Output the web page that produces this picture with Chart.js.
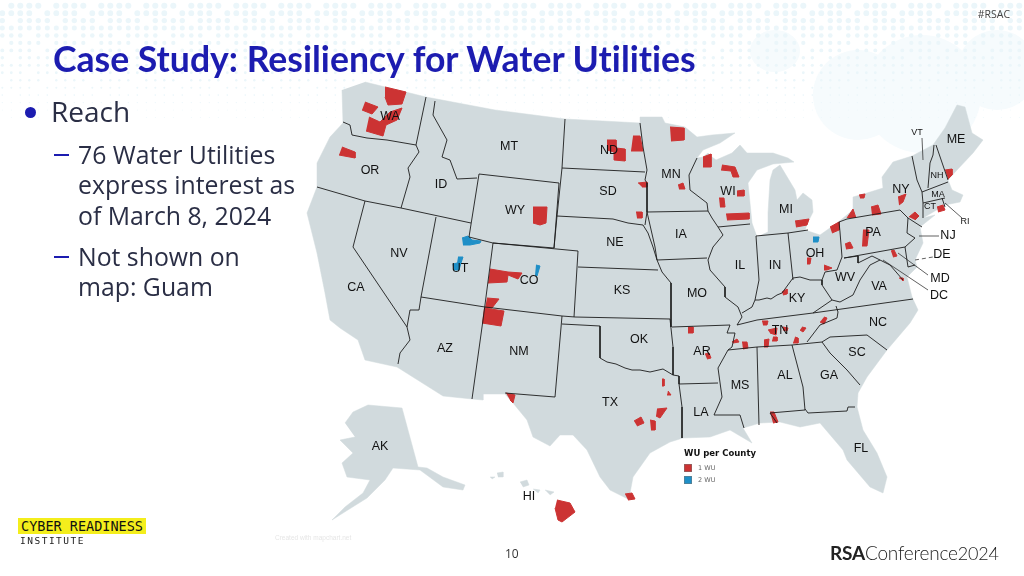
<!DOCTYPE html>
<html>
<head>
<meta charset="utf-8">
<title>Case Study: Resiliency for Water Utilities</title>
<script src="https://cdn.jsdelivr.net/npm/chart.js@4"></script>
<style>
  html, body { margin: 0; padding: 0; background: #fff; }
  #slide { position: relative; width: 1024px; height: 576px; overflow: hidden; background: #fff; }
  .blob { position: absolute; border-radius: 50%; background: #f6fbfd; }
  canvas { position: absolute; left: 0; top: 0; }
  .t { position: absolute; white-space: nowrap; }
  #title { left: 53px; top: 37px; font: bold 35.6px Lato, sans-serif; color: #1c1cb0; font-variant-ligatures: none; }
  .body { font-family: "Open Sans", sans-serif; color: #2a2e45; }
  .l2 { left: 78px; font-size: 24.8px; line-height: 30px; }
  .dash { position: absolute; left: 54px; width: 15px; height: 2px; background: #1c1cb0; }
  #bullet { position: absolute; left: 25px; top: 107px; width: 11px; height: 11px; border-radius: 50%; background: #1c1cb0; }
  #logo { left: 18px; top: 518px; width: 128px; height: 16px; background: #f4ee1c;
    font: 13.5px/16px "DejaVu Sans Mono", monospace; color: #111; text-align: center; }
  #inst { left: 20px; top: 535px; font: 9.5px/12px "DejaVu Sans Mono", monospace; letter-spacing: 1.5px; color: #222; }
  #rsa { left: 830px; top: 541px; font: 300 19px/24px Lato, sans-serif; color: #222; letter-spacing: -0.2px; }
  #rsa b { font-weight: 700; }
</style>
</head>
<body>
<div id="slide">
  <div class="blob" style="left:750px;top:30px;width:50px;height:42px"></div>
  <div class="blob" style="left:813px;top:50px;width:90px;height:90px"></div>
  <div class="blob" style="left:863px;top:35px;width:118px;height:118px"></div>
  <div class="blob" style="left:957px;top:30px;width:80px;height:80px"></div>
  <canvas id="dots" width="1024" height="130"></canvas>
  <canvas id="map" width="1024" height="576"></canvas>
  <div class="t" id="title">Case Study: Resiliency for Water Utilities</div>
  <div id="bullet"></div>
  <div class="t body" style="left:51px;top:91px;font-size:28px;line-height:40px">Reach</div>
  <div class="dash" style="top:154px"></div>
  <div class="t body l2" style="top:139px">76 Water Utilities</div>
  <div class="t body l2" style="top:169px">express interest as</div>
  <div class="t body l2" style="top:200px">of March 8, 2024</div>
  <div class="dash" style="top:256px"></div>
  <div class="t body l2" style="top:241px">Not shown on</div>
  <div class="t body l2" style="top:271px">map: Guam</div>
  <div class="t" style="right:14px;top:7px;font:10.5px 'Open Sans',sans-serif;color:#444">#RSAC</div>
  <div class="t" id="logo">CYBER READINESS</div>
  <div class="t" id="inst">INSTITUTE</div>
  <div class="t" style="left:275px;top:534px;font:6.5px 'Liberation Sans',sans-serif;color:#e6e6e6">Created with mapchart.net</div>
  <div class="t" style="left:505px;top:545px;font:12px 'Open Sans',sans-serif;color:#333">10</div>
  <div class="t" id="rsa"><b>RSA</b>Conference<span style="font-size:18px">2024</span></div>
</div>
<script>
// Outlines and marks in slide units (x right, y down)
const mainland = [[365,82],[426,97],[495,110],[565,119],[640,123],[640,117],[662,117],[665,123],[685,127],[697,137],[712,135],[735,133],[720,143],[703,150],[697,158],[703,157],[708,153],[712,157],[716,160],[732,153],[740,145],[747,153],[773,153],[788,158],[794,162],[773,164],[757,170],[748,183],[750,203],[752,223],[757,237],[768,232],[768,213],[770,180],[773,170],[780,165],[795,190],[797,200],[803,193],[812,200],[813,212],[808,222],[805,230],[820,235],[837,223],[853,210],[853,197],[867,193],[883,188],[882,177],[893,162],[912,156],[933,145],[945,128],[957,105],[965,107],[972,133],[983,140],[973,153],[957,170],[948,180],[952,190],[963,195],[960,202],[945,205],[923,218],[935,215],[920,227],[923,243],[915,260],[917,267],[907,277],[912,297],[918,310],[910,323],[887,350],[867,377],[858,393],[857,407],[863,430],[877,453],[887,477],[883,493],[870,487],[847,460],[843,450],[820,423],[800,427],[780,422],[760,423],[743,428],[752,443],[730,430],[710,437],[683,438],[670,442],[650,453],[633,477],[630,493],[630,500],[610,490],[600,477],[587,450],[573,435],[560,435],[550,446],[533,437],[527,420],[513,403],[505,394],[483,394],[483,400],[472,399],[443,396],[397,367],[365,360],[358,340],[340,328],[330,320],[325,293],[317,253],[307,213],[317,187],[317,163],[330,137],[343,123],[342,90]];
const alaska = [[345,423],[353,412],[368,405],[402,408],[418,467],[427,468],[443,477],[465,485],[463,490],[443,487],[420,470],[393,468],[385,480],[367,498],[343,513],[332,520],[345,507],[363,493],[370,480],[347,477],[342,463],[353,453],[340,440],[355,437]];
const hawaiiIslands = [
  [[520,482],[527,480],[529,485],[523,487]],
  [[545,490],[554,492],[550,495]],
  [[533,489],[540,490],[538,493]],
  [[497,473],[503,472],[503,477],[498,477]],
  [[490,477],[495,477],[492,479]]
];
const stateBorders = [
  [[343,122],[350,125],[352,135],[367,138],[387,140],[416,145]],
  [[426,97],[416,145],[419,152],[408,168],[410,177],[401,208]],
  [[317,187],[365,201],[401,208],[471,223]],
  [[435,101],[433,115],[447,140],[442,157],[450,160],[457,179],[477,178]],
  [[479,174],[559,183],[554,248],[493,243],[469,237],[479,174]],
  [[365,201],[353,247],[407,327],[410,340],[400,353],[398,364]],
  [[436,217],[421,297],[419,310],[410,310],[407,327]],
  [[421,297],[485,307],[562,316],[575,317],[670,319]],
  [[493,243],[578,251],[574,317]],
  [[493,243],[483,320],[472,399]],
  [[562,316],[555,397],[505,393]],
  [[562,324],[600,326],[600,358],[607,362],[616,364],[625,368],[632,370],[640,370],[650,372],[663,369],[673,375],[679,376],[679,384],[682,407],[682,438]],
  [[670,319],[673,347],[673,375]],
  [[672,327],[730,325],[727,333],[735,333],[732,347],[728,350]],
  [[578,267],[658,270]],
  [[557,216],[613,219],[628,223],[643,225],[648,233],[653,247],[657,260],[662,272],[671,283],[671,327]],
  [[565,119],[562,168],[557,216],[554,248]],
  [[562,168],[645,172]],
  [[640,123],[643,147],[647,170],[645,180],[647,183],[647,212],[645,225]],
  [[647,212],[655,247],[657,260],[707,258]],
  [[647,212],[708,211]],
  [[697,158],[689,175],[690,190],[707,203],[708,211],[712,218],[718,227],[723,235],[713,247],[708,260],[710,270],[725,287],[725,297],[738,307],[742,317],[737,325]],
  [[718,227],[750,224]],
  [[756,236],[788,233],[808,230]],
  [[756,236],[759,280],[755,300],[752,307],[742,313]],
  [[788,233],[793,280]],
  [[755,300],[759,300],[767,298],[771,299],[777,295],[782,293],[793,278],[800,277],[810,280],[822,280],[825,272],[837,270],[842,257],[840,232],[839,222]],
  [[822,280],[822,285],[832,300],[813,313]],
  [[737,325],[757,320],[813,313],[913,299]],
  [[832,300],[840,302],[853,295],[860,280],[870,265],[880,260],[890,265],[903,280]],
  [[844,258],[858,256],[858,263],[872,256],[880,260]],
  [[844,258],[905,247],[915,238],[907,233],[908,218],[900,210],[847,219],[839,222]],
  [[908,218],[922,227]],
  [[923,218],[923,203],[922,192],[917,180],[912,156]],
  [[934,145],[933,155],[930,163],[928,188]],
  [[922,192],[948,182]],
  [[923,203],[945,198]],
  [[942,198],[945,207]],
  [[936,145],[948,180]],
  [[905,247],[908,267],[915,265]],
  [[822,342],[830,337],[867,335],[887,350]],
  [[838,312],[837,318],[820,325],[807,342]],
  [[838,312],[836,306]],
  [[728,350],[757,347],[792,345],[822,342]],
  [[728,350],[718,368],[722,397],[714,415],[740,415],[744,428]],
  [[757,347],[759,425]],
  [[792,345],[803,387],[805,410],[770,413],[777,423]],
  [[805,409],[808,413],[847,411],[848,407],[855,407]],
  [[822,342],[830,353],[847,370],[860,385]],
  [[679,384],[718,383]]
];
const leaderLines = [
  [[922,138],[923,160]],
  [[945,203],[962,218]],
  [[919,236],[939,236]],
  [[898,253],[928,275]],
  [[883,260],[928,290]]
];
const dashedLeaders = [[[915,260],[933,257]]];
const oneWuCounties = [
  [[385,87],[406,92],[402,104],[388,105],[385,97]],
  [[365,102],[378,107],[372,114],[362,110]],
  [[369,117],[380,122],[390,112],[402,108],[397,120],[386,125],[383,136],[366,131]],
  [[342,147],[355,152],[355,158],[339,155]],
  [[607,140],[616,140],[616,148],[625,149],[625,161],[614,160],[614,152],[607,150]],
  [[633,136],[640,136],[643,151],[631,151]],
  [[638,183],[647,182],[647,187],[642,187]],
  [[636,212],[642,212],[642,218],[637,218]],
  [[533,207],[547,207],[546,223],[540,225],[533,223]],
  [[490,269],[508,272],[522,273],[518,279],[508,275],[507,282],[488,283]],
  [[487,298],[499,299],[492,308],[485,308]],
  [[484,308],[504,311],[501,326],[482,323]],
  [[506,393],[515,395],[513,403],[510,400]],
  [[662,379],[664,379],[664,386],[662,386]],
  [[668,391],[671,395],[667,395]],
  [[657,409],[667,408],[660,418],[656,416]],
  [[634,421],[641,417],[644,423],[637,426]],
  [[650,420],[655,421],[655,430],[651,430]],
  [[625,494],[632,493],[635,499],[628,500]],
  [[557,500],[570,503],[575,512],[562,522],[558,520],[555,508]],
  [[670,127],[684,128],[684,140],[671,141]],
  [[678,185],[683,183],[685,189],[679,189]],
  [[703,157],[711,154],[711,167],[703,167]],
  [[722,165],[735,167],[739,177],[733,177],[731,171],[721,170]],
  [[737,191],[744,190],[744,196],[737,196]],
  [[719,198],[724,198],[725,207],[720,207]],
  [[726,214],[749,213],[749,219],[727,220]],
  [[795,221],[809,219],[807,225],[796,227]],
  [[830,227],[839,222],[839,230],[832,233]],
  [[807,258],[811,258],[810,264],[807,264]],
  [[824,265],[832,268],[827,270],[824,270]],
  [[782,292],[787,289],[787,294],[783,295]],
  [[847,218],[853,209],[856,218]],
  [[859,195],[865,194],[864,198],[860,198]],
  [[871,207],[878,205],[881,214],[872,215]],
  [[898,197],[906,194],[903,202],[899,205]],
  [[909,217],[915,212],[919,216],[915,220]],
  [[937,207],[943,205],[945,210],[938,212]],
  [[945,170],[952,169],[952,175],[948,179]],
  [[863,230],[869,230],[867,246],[862,246]],
  [[845,244],[850,242],[853,248],[846,249]],
  [[891,251],[894,250],[897,256],[893,257]],
  [[899,278],[903,278],[903,281]],
  [[762,321],[768,321],[767,325],[763,325]],
  [[688,327],[693,327],[693,333],[688,333]],
  [[705,354],[709,353],[711,358],[707,359]],
  [[732,342],[737,339],[739,342],[733,343]],
  [[742,342],[747,342],[748,348],[743,349]],
  [[764,340],[769,339],[768,347],[764,347]],
  [[768,330],[777,328],[776,335],[770,333]],
  [[773,337],[777,337],[777,341],[772,341]],
  [[783,327],[788,328],[787,331],[783,330]],
  [[802,327],[806,328],[803,332],[800,330]],
  [[795,337],[798,338],[798,343],[793,343]],
  [[824,317],[827,318],[824,324],[820,322]],
  [[770,412],[774,412],[778,422],[773,423]]
];
const twoWuCounties = [
  [[462,238],[468,236],[472,240],[481,241],[480,243],[470,245],[463,245]],
  [[458,257],[463,257],[461,263],[459,270],[454,270],[453,264],[457,263]],
  [[536,265],[540,266],[537,276],[535,275]],
  [[813,237],[819,237],[818,242],[813,242]]
];
const stateNames = ['WA','OR','CA','NV','ID','MT','WY','UT','CO','AZ','NM','ND','SD','NE','KS','OK','TX','AK','HI','MN','IA','MO','AR','LA','WI','IL','IN','MI','OH','KY','TN','MS','AL','GA','FL','SC','NC','VA','WV','PA','NY','ME','NJ','DE','MD','DC'];
const stateNameX = [390,370,356,399,441,509,515,460,529,445,519,609,608,615,622,639,610,380,529,671,681,697,702,701,728,740,775,786,815,797,780,740,785,829,861,857,878,879,845,873,901,956,948,942,940,939];
const stateNameY = [117,171,288,254,185,147,211,269,281,349,352,151,192,243,291,340,403,447,497,175,235,294,352,413,192,266,266,210,254,299,331,386,376,376,449,353,323,287,278,233,190,140,236,255,279,296];
const smallNames = ['VT','NH','MA','CT','RI'];
const smallNameX = [917,937,938,930,965];
const smallNameY = [133,176,195,207,222];
const legendTitle = 'WU per County';
const legendLabels = ['1 WU', '2 WU'];

const COLORS = { land: '#d1dadd', border: '#1c1c1c', one: '#cc3333', two: '#1f8fc7', label: '#111' };

// header decoration: dot screen that shrinks towards the map
(function drawDots() {
  const g = document.getElementById('dots').getContext('2d');
  g.fillStyle = '#ebf6fa';
  for (let row = 0; row < 16; row++) {
    const y = 5.7 + row * 7.45;
    const r = Math.max(0.5, 3.2 - y * 0.025);
    for (let col = 0; col < 114; col++) {
      if ((col * 7 + row * 13 + col * row) % 5 === 0) continue;
      g.beginPath();
      g.arc(2.3 + col * 9, y, r, 0, Math.PI * 2);
      g.fill();
    }
  }
})();

function toPoints(list) {
  return list.map(p => ({ x: p[0], y: p[1] }));
}

// lower order is painted on top in Chart.js
function shape(list, color, order, width) {
  return { data: toPoints(list), showLine: true, fill: 'shape', backgroundColor: color,
    borderColor: color, borderWidth: width, pointRadius: 0, tension: 0, order };
}

function line(list, color, width, dash) {
  return { data: toPoints(list), showLine: true, fill: false, borderColor: color,
    borderWidth: width, borderDash: dash || [], pointRadius: 0, tension: 0, order: 1 };
}

const datasets = [];
[mainland, alaska].concat(hawaiiIslands).forEach(s => datasets.push(shape(s, COLORS.land, 3, 0.5)));
oneWuCounties.forEach(s => datasets.push(shape(s, COLORS.one, 2, 1)));
twoWuCounties.forEach(s => datasets.push(shape(s, COLORS.two, 2, 1)));
stateBorders.forEach(s => datasets.push(line(s, COLORS.border, 0.9)));
leaderLines.forEach(s => datasets.push(line(s, COLORS.border, 0.7)));
dashedLeaders.forEach(s => datasets.push(line(s, COLORS.border, 0.7, [4, 3])));

// state names and the legend are placed through the scales as well
const mapTexts = {
  id: 'mapTexts',
  afterDatasetsDraw(chart) {
    const { ctx, scales } = chart;
    ctx.save();
    ctx.textAlign = 'center';
    ctx.textBaseline = 'middle';
    ctx.fillStyle = COLORS.label;
    ctx.font = '12.5px "Liberation Sans", sans-serif';
    stateNames.forEach((n, i) => ctx.fillText(n, scales.x.getPixelForValue(stateNameX[i]), scales.y.getPixelForValue(stateNameY[i])));
    ctx.font = '9px "Liberation Sans", sans-serif';
    smallNames.forEach((n, i) => ctx.fillText(n, scales.x.getPixelForValue(smallNameX[i]), scales.y.getPixelForValue(smallNameY[i])));

    ctx.textAlign = 'left';
    ctx.font = 'bold 8.5px "DejaVu Sans", sans-serif';
    ctx.fillText(legendTitle, scales.x.getPixelForValue(684), scales.y.getPixelForValue(454));
    ctx.font = '6.5px "DejaVu Sans", sans-serif';
    [COLORS.one, COLORS.two].forEach((c, i) => {
      const top = scales.y.getPixelForValue(464 + i * 12);
      ctx.fillStyle = '#777';
      ctx.fillRect(scales.x.getPixelForValue(684), top, 8, 8);
      ctx.fillStyle = c;
      ctx.fillRect(scales.x.getPixelForValue(684.5), top + 0.5, 7, 7);
      ctx.fillStyle = '#666';
      ctx.fillText(legendLabels[i], scales.x.getPixelForValue(698), top + 4);
    });
    ctx.restore();
  }
};

new Chart(document.getElementById('map'), {
  type: 'scatter',
  data: { datasets },
  plugins: [mapTexts],
  options: {
    responsive: false,
    devicePixelRatio: 1,
    animation: false,
    layout: { padding: 0 },
    plugins: { legend: { display: false }, tooltip: { enabled: false } },
    scales: {
      x: { type: 'linear', min: 0, max: 1024, display: false },
      y: { type: 'linear', min: 0, max: 576, reverse: true, display: false }
    }
  }
});
</script>
</body>
</html>
